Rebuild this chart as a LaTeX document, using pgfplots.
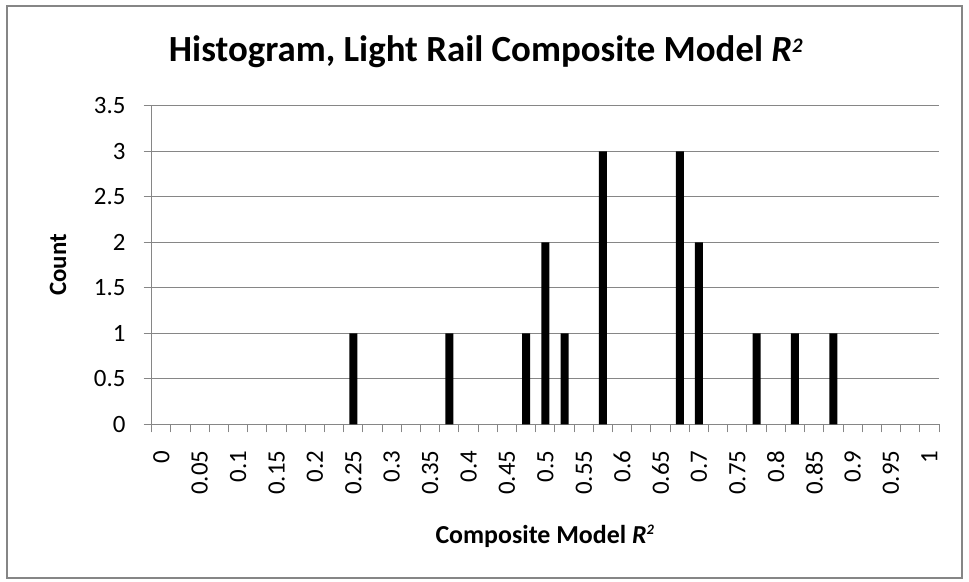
\documentclass[border=0pt]{standalone}
\usepackage{fontspec}
\setmainfont{Carlito}
\usepackage{graphicx}
\usepackage{pgfplots}
\pgfplotsset{compat=1.18}
\definecolor{axgray}{HTML}{868686}
\newcommand{\sqr}{\textit{R}\textsuperscript{\scalebox{0.8}{\textit{2}}}}
\begin{document}
\begin{tikzpicture}[x=1bp,y=1bp]
\useasboundingbox (0,0) rectangle (969,582);
\draw[axgray, line width=1.6bp] (7,4) rectangle (962,576);
\begin{axis}[
  at={(151.7bp,157.5bp)}, anchor=south west,
  scale only axis, width=787.3bp, height=318.5bp,
  xmin=-0.5, xmax=40.5, ymin=0, ymax=3.5,
  axis x line=bottom, axis y line=left,
  axis line style={axgray, line width=1bp, -},
  ytick={0,0.5,1,1.5,2,2.5,3,3.5},
  yticklabels={0,0.5,1,1.5,2,2.5,3,3.5},
  ymajorgrids, grid style={axgray, line width=1bp},
  xtick={0,2,4,6,8,10,12,14,16,18,20,22,24,26,28,30,32,34,36,38,40},
  xticklabels={0,0.05,0.1,0.15,0.2,0.25,0.3,0.35,0.4,0.45,0.5,0.55,0.6,0.65,0.7,0.75,0.8,0.85,0.9,0.95,1},
  minor xtick={-0.5,0.5,...,40.5},
  major x tick style={draw=none},
  minor x tick style={axgray, line width=1bp},
  y tick style={axgray, line width=1bp},
  tick align=outside, major tick length=8bp, minor tick length=8bp,
  tick label style={font=\fontsize{25}{25}\selectfont, black},
  /pgf/number format/assume math mode=true,
  x tick label style={rotate=90, anchor=east, inner sep=0pt, xshift=-18bp},
  y tick label style={anchor=east, inner sep=0pt, xshift=-18bp},
  ybar, bar width=8bp,
]
\addplot[fill=black, draw=none] coordinates {
 (10,1) (15,1) (19,1) (20,2) (21,1) (23,3) (27,3) (28,2) (31,1) (33,1) (35,1)
};
\end{axis}
\node[font=\bfseries\fontsize{37}{37}\selectfont, anchor=base] at (486,520.3) {Histogram, Light Rail Composite Model \sqr};
\node[font=\bfseries\fontsize{25}{25}\selectfont, rotate=90] at (58,317) {Count};
\node[font=\bfseries\fontsize{26}{26}\selectfont, anchor=base] at (545,38.7) {Composite Model \sqr};
\end{tikzpicture}
\end{document}
